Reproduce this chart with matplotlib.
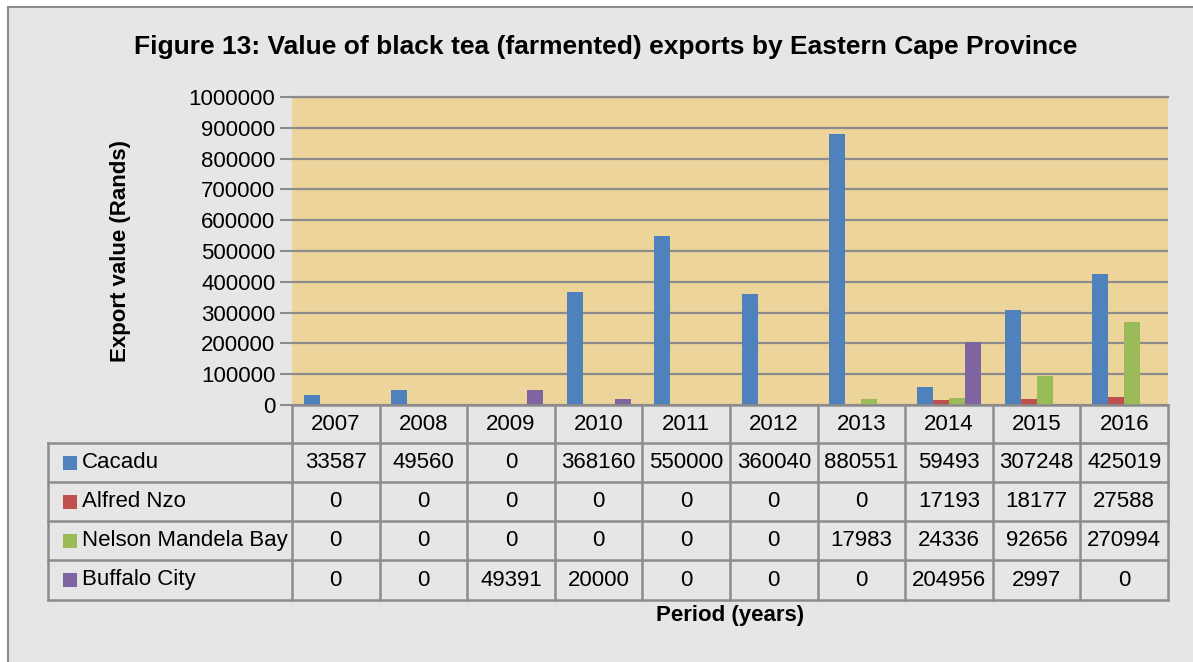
import matplotlib
matplotlib.use("Agg")
import matplotlib.pyplot as plt
import numpy as np
from matplotlib import font_manager
from matplotlib.patches import Rectangle

years = ["2007", "2008", "2009", "2010", "2011", "2012", "2013", "2014", "2015", "2016"]
regions = ["Cacadu", "Alfred Nzo", "Nelson Mandela Bay", "Buffalo City"]
cacadu = [33587, 49560, 0, 368160, 550000, 360040, 880551, 59493, 307248, 425019]
alfred_nzo = [0, 0, 0, 0, 0, 0, 0, 17193, 18177, 27588]
nelson_mandela_bay = [0, 0, 0, 0, 0, 0, 17983, 24336, 92656, 270994]
buffalo_city = [0, 0, 49391, 20000, 0, 0, 0, 204956, 2997, 0]
colors = ["#4F81BD", "#C0504D", "#9BBB59", "#8064A2"]

series = [cacadu, alfred_nzo, nelson_mandela_bay, buffalo_city]

# condensed font if we have it
names = {f.name for f in font_manager.fontManager.ttflist}
if "Liberation Sans Narrow" in names:
    fam = "Liberation Sans Narrow"
    fs = 18
else:
    fam = "Liberation Sans"
    fs = 16
plt.rcParams["font.family"] = [fam, "DejaVu Sans"]

W, H = 1193, 662
fig = plt.figure(figsize=(W / 100, H / 100), dpi=100)
fig.patch.set_facecolor("white")

# page background with frame line top/left
bg = fig.add_axes([0, 0, 1, 1], zorder=0)
bg.set_xlim(0, W)
bg.set_ylim(H, 0)
bg.axis("off")
bg.add_patch(Rectangle((8, 7), W, H, facecolor="#e6e6e6", edgecolor="#8c8c8c", lw=1.5))

# plot area
px_l, px_r, px_t, px_b = 292, 1168, 97, 405
ax = fig.add_axes([px_l / W, 1 - px_b / H, (px_r - px_l) / W, (px_b - px_t) / H], zorder=2)
ax.set_facecolor("#EDD49B")
x = np.arange(len(years))
bw = 0.183
for i, (vals, c) in enumerate(zip(series, colors)):
    ax.bar(x + (i - 1.5) * bw, vals, width=bw, color=c, zorder=3)
ax.set_xlim(-0.5, len(years) - 0.5)
ax.set_ylim(0, 1000000)
ax.set_yticks(np.arange(0, 1000001, 100000))
ax.set_yticklabels([str(v) for v in range(0, 1000001, 100000)], fontsize=fs)
ax.yaxis.grid(True, color="#8c8c8c", lw=1.6, zorder=1)
ax.set_axisbelow(True)
ax.tick_params(axis="y", length=9, width=1.5, color="#8c8c8c", pad=3)
ax.set_xticks([])
for s in ["left", "right", "bottom"]:
    ax.spines[s].set_visible(False)
ax.spines["top"].set_color("#8c8c8c")
ax.spines["top"].set_linewidth(1.6)
ax.set_ylabel("Export value (Rands)", fontsize=fs, fontweight="bold")
ax.yaxis.set_label_coords((131 - px_l) / (px_r - px_l), 0.5)

# data table under the plot
tb = fig.add_axes([0, 0, 1, 1], zorder=3)
tb.set_xlim(0, W)
tb.set_ylim(H, 0)
tb.axis("off")
tab_l = 48
col_w = (px_r - px_l) / len(years)
row_y = [405, 443, 482, 521, 560, 600]
lc = "#8c8c8c"
lw = 1.8
# header row (years)
tb.plot([px_l, px_r], [row_y[0], row_y[0]], color=lc, lw=lw)
for j, yr in enumerate(years):
    tb.text(px_l + (j + 0.5) * col_w, (row_y[0] + row_y[1]) / 2, yr,
            ha="center", va="center", fontsize=fs)
for r in range(1, 6):
    tb.plot([tab_l, px_r], [row_y[r], row_y[r]], color=lc, lw=lw)
tb.plot([tab_l, tab_l], [row_y[1], row_y[5]], color=lc, lw=lw)
for j in range(len(years) + 1):
    tb.plot([px_l + j * col_w] * 2, [row_y[0], row_y[5]], color=lc, lw=lw)
for r, (name, vals, c) in enumerate(zip(regions, series, colors)):
    yc = (row_y[r + 1] + row_y[r + 2]) / 2
    tb.add_patch(Rectangle((63, yc - 7), 14, 14, facecolor=c, edgecolor="none"))
    tb.text(82, yc, name, ha="left", va="center", fontsize=fs)
    for j, v in enumerate(vals):
        tb.text(px_l + (j + 0.5) * col_w, yc, str(v), ha="center", va="center", fontsize=fs)

tb.text((px_l + px_r) / 2, 615, "Period (years)", ha="center", va="center",
        fontsize=fs, fontweight="bold")

fig.text(606 / W, 1 - 47 / H,
         "Figure 13: Value of black tea (farmented) exports by Eastern Cape Province",
         ha="center", va="center", fontsize=19, fontweight="bold")

fig.savefig("out.png", dpi=100)
